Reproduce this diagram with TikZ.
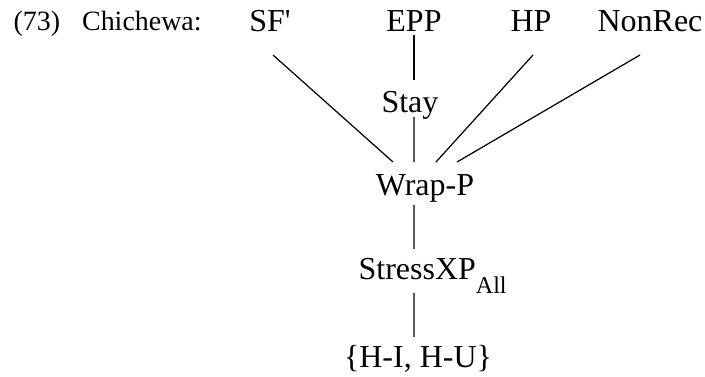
\documentclass[tikz,border=0pt]{standalone}
\usepackage{fontspec}
\setmainfont{Liberation Serif}
\usetikzlibrary{calc}
\tikzset{con/.style={inner sep=0pt, anchor=base, font=\fontsize{18.2}{22}\selectfont},
         lbl/.style={inner sep=0pt, anchor=base west, font=\fontsize{15.9}{19}\selectfont}}

\begin{document}
\begin{tikzpicture}[line width=0.7pt]
  \useasboundingbox (0,0) rectangle (14.1,7.52);
  \node[lbl] (ex) at (0.26,6.92) {(73)\hspace{12.5pt}Chichewa:};
  \node[con] (sf) at (5.40,6.90) {SF\textquotesingle};
  \node[con] (epp) at (8.28,6.90) {EPP};
  \node[con] (hp) at (10.62,6.90) {HP};
  \node[con] (nonrec) at (13.00,6.90) {NonRec};
  \node[con] (stay) at (8.20,5.28) {Stay};
  \node[con] (wrap) at (8.50,3.62) {Wrap-P};
  \node[con, anchor=base west] (stress) at (7.16,1.94)
    {StressXP\raisebox{-8pt}{\fontsize{13.7}{14}\selectfont All}};
  \node[con] (hihu) at (8.36,0.18) {\{H-I, H-U\}};
  % ranking lines
  \draw ([shift={(0.06,-0.48)}]sf.base) -- ([shift={(-0.64,0.66)}]wrap.base);
  \draw ([shift={(0,-0.08)}]epp.base) -- ([shift={(0.08,0.64)}]stay.base);
  \draw ([shift={(0.08,-0.10)}]stay.base) -- ([shift={(-0.22,0.66)}]wrap.base);
  \draw ([shift={(0.04,-0.48)}]hp.base) -- ([shift={(0.22,0.66)}]wrap.base);
  \draw ([shift={(-0.20,-0.48)}]nonrec.base) -- ([shift={(0.64,0.66)}]wrap.base);
  \draw ([shift={(-0.22,-0.20)}]wrap.base) -- ([shift={(1.12,0.60)}]stress.base west);
  \draw ([shift={(1.12,-0.28)}]stress.base west) -- ([shift={(-0.08,0.60)}]hihu.base);
\end{tikzpicture}
\end{document}
